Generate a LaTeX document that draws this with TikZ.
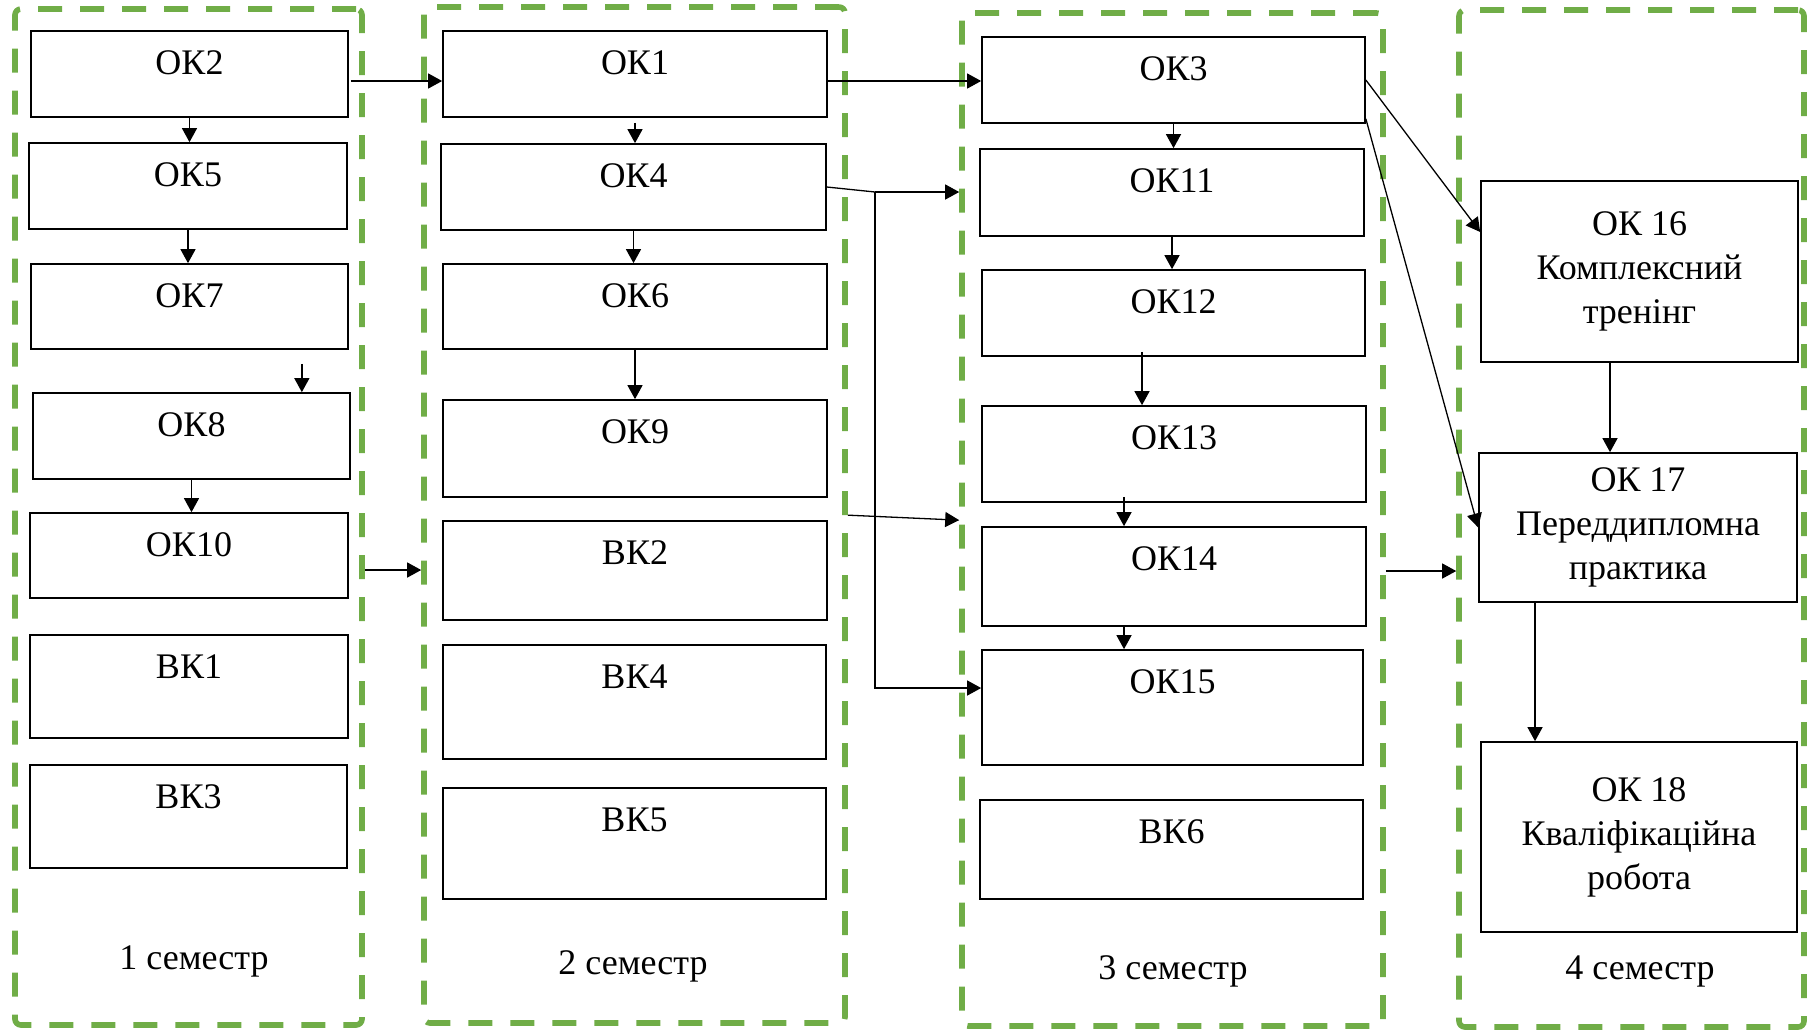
\documentclass[tikz,border=0pt]{standalone}
\usepackage{fontspec}
\setmainfont{Liberation Serif}
\usetikzlibrary{arrows.meta,positioning}
\definecolor{SemGreen}{HTML}{70AD47}
\tikzset{>={Triangle[length=7pt,width=7.5pt]},every node/.style={font=\fontsize{18}{22}\selectfont},
 course/.style={draw,line width=0.85pt,inner sep=0pt,text height=21.5pt},
 finalbox/.style={draw,line width=0.85pt,inner sep=0pt,align=center},
 semester/.style={draw=SemGreen,line width=2.8pt,dash pattern=on 12pt off 9pt,rounded corners=3pt},
 link/.style={->,line width=0.65pt},wire/.style={line width=0.65pt}}

\begin{document}
\begin{tikzpicture}[x=0.5pt,y=-0.5pt]
\useasboundingbox (0,0) rectangle (1807,1030);
% semester frames and their captions
\foreach \id/\x/\y/\bw/\bh in {1/188.5/517/347/1016,2/634.5/515/421/1016,
 3/1172.5/519.5/421/1013,4/1631.5/518.5/345/1017}{
 \node[semester,minimum width=\bw*0.5pt,minimum height=\bh*0.5pt] (sem\id) at (\x,\y){};
}
\node[anchor=base] (lab1) at (194,969){1 семестр};
\node[anchor=base] (lab2) at (633,974){2 семестр};
\node[anchor=base] (lab3) at (1173,979){3 семестр};
\node[anchor=base] (lab4) at (1640,979){4 семестр};
% one-line course boxes, text sits near the top
\foreach \id/\txt/\x/\y/\bw/\bh in {ok2/ОК2/189.5/74/317/86,ok5/ОК5/188/186/318/86,
 ok7/ОК7/189.5/306.5/317/85,ok8/ОК8/191.5/436/317/86,ok10/ОК10/189/555.5/318/85,
 vk1/ВК1/189/686.5/318/103,vk3/ВК3/188.5/816.5/317/103,
 ok1/ОК1/635/74/384/86,ok4/ОК4/633.5/187/385/86,ok6/ОК6/635/306.5/384/85,
 ok9/ОК9/635/448.5/384/97,vk2/ВК2/635/570.5/384/99,vk4/ВК4/634.5/702/383/114,
 vk5/ВК5/634.5/843.5/383/111,
 ok3/ОК3/1173.5/80/383/86,ok11/ОК11/1172/192.5/384/87,ok12/ОК12/1173.5/313/383/86,
 ok13/ОК13/1174/454/384/96,ok14/ОК14/1174/576.5/384/99,ok15/ОК15/1172.5/707.5/381/115,
 vk6/ВК6/1171.5/849.5/383/99}{
 \pgfmathsetmacro\dep{\bh*0.5-21.5}
 \pgfmathsetmacro\wid{\bw*0.5}
 \node[course,minimum width=\wid pt,text depth=\dep pt] (\id) at (\x,\y){\txt};
}
\node[finalbox,minimum width=158.5pt,minimum height=90.5pt] (ok16) at (1639.5,271.5){ОК 16\\Комплексний\\тренінг};
\node[finalbox,minimum width=159pt,minimum height=74.5pt] (ok17) at (1638,527.5){ОК 17\\Переддипломна\\практика};
\node[finalbox,minimum width=158pt,minimum height=95pt] (ok18) at (1639,837){ОК 18\\Кваліфікаційна\\робота};
% inside the semesters
\draw[link] (ok2.south) -- (ok2.south |- ok5.north);
\draw[link] (ok5.south) -- (ok5.south |- ok7.north);
\coordinate (c78) at ([xshift=-23.5pt]ok7.south east);
\draw[link] ([yshift=-7pt]c78) -- (c78 |- ok8.north);
\draw[link] (ok8.south) -- (ok8.south |- ok10.north);
\draw[link] ([yshift=-2.5pt]ok1.south) -- (ok1.south |- ok4.north);
\draw[link] (ok4.south) -- (ok4.south |- ok6.north);
\draw[link] (ok6.south) -- (ok6.south |- ok9.north);
\draw[link] (ok3.south) -- (ok3.south |- ok11.north);
\draw[link] (ok11.south) -- (ok11.south |- ok12.north);
\coordinate (c1213) at ([xshift=-15.75pt]ok12.south);
\draw[link] ([yshift=2.5pt]c1213) -- (c1213 |- ok13.north);
\coordinate (c1314) at ([xshift=-25pt]ok13.south);
\draw[link] ([yshift=3pt]c1314) -- (c1314 |- ok14.north);
\coordinate (c1415) at ([xshift=-25pt]ok14.south);
\draw[link] (c1415) -- (c1415 |- ok15.north);
\coordinate (c1617) at ([xshift=-14.75pt]ok16.south);
\draw[link] (c1617) -- (c1617 |- ok17.north);
\coordinate (c1718) at ([xshift=-51.5pt]ok17.south);
\draw[link] (c1718) -- (c1718 |- ok18.north);
% between the semesters
\coordinate (r2) at ([yshift=-3.5pt]ok2.east);
\draw[link] ([xshift=1pt]r2) -- (r2 -| ok1.west);
\coordinate (r1) at ([yshift=-3.5pt]ok1.east);
\draw[link] (r1) -- (r1 -| ok3.west);
\coordinate (r10) at ([yshift=-7.25pt]ok10.east);
\draw[link] (r10 -| sem1.east) -- (r10 -| sem2.west);
\coordinate (fork) at (875,192);
\draw[wire] (ok4.east) -- (fork);
\draw[link] (fork) -- (fork -| sem3.west);
\draw[link] (fork) |- ([yshift=9.75pt]ok15.west);
\coordinate (r9) at ([yshift=2.5pt]vk2.north);
\coordinate (r14) at ([yshift=3pt]ok14.north);
\draw[link] (r9 -| sem2.east) -- (r14 -| sem3.west);
\draw[link] (ok3.east) -- ([yshift=19.75pt]ok16.west);
\draw[link] ([yshift=2.5pt]ok3.south east) -- (ok17.west);
\coordinate (r15) at ([yshift=2.75pt]ok14.east);
\draw[link] (r15 -| sem3.east) -- (r15 -| sem4.west);
\end{tikzpicture}
\end{document}
